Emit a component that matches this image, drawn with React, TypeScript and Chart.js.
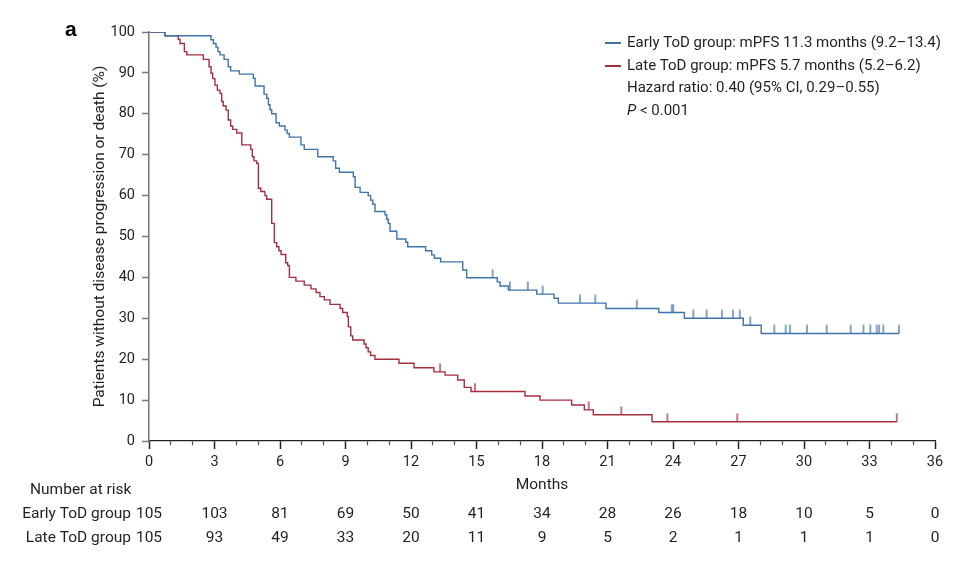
import { useEffect, useRef } from 'react';
import { Chart, registerables } from 'chart.js';

Chart.register(...registerables);

// ---- Data ----
const earlyTimes = [0, 0.73, 2.84, 2.95, 3.07, 3.16, 3.25, 3.44, 3.63, 3.74, 4.14, 4.78, 4.86, 5.27, 5.39, 5.47, 5.54, 5.62, 5.82, 5.97, 6.23, 6.33, 6.43, 6.96, 7.11, 7.73, 8.44, 8.55, 8.72, 9.36, 9.44, 9.67, 10.04, 10.15, 10.25, 10.35, 10.81, 10.89, 10.96, 11.04, 11.35, 11.76, 11.85, 12.67, 12.95, 13.07, 13.36, 14.37, 14.55, 15.95, 16.08, 16.46, 17.76, 18.55, 18.75, 20.93, 23.35, 24.52, 27.22, 28.04, 34.35];
const earlySurv = [100, 99.1, 98.1, 97.2, 96.3, 95.2, 94.4, 93.3, 91.5, 90.5, 89.7, 88.7, 86.8, 84.8, 83.8, 82.2, 81.0, 80.0, 77.8, 77.0, 76.0, 75.2, 74.3, 72.4, 71.3, 69.5, 68.5, 66.7, 65.7, 64.6, 62.0, 60.8, 60.0, 58.9, 57.9, 56.1, 55.3, 54.2, 53.2, 51.3, 49.4, 48.6, 47.5, 46.5, 45.5, 44.7, 43.8, 41.8, 39.9, 38.9, 37.9, 36.9, 35.9, 34.9, 33.7, 32.4, 31.4, 30.0, 28.3, 26.3, 26.3];
const earlyCensor = [15.74, 16.53, 17.35, 18.03, 19.74, 20.44, 22.34, 23.94, 24.01, 24.93, 25.54, 26.24, 26.75, 27.06, 27.54, 28.64, 29.16, 29.36, 30.14, 31.04, 32.14, 32.72, 33.04, 33.33, 33.44, 33.63, 34.35];

const lateTimes = [0, 0.73, 1.34, 1.42, 1.62, 1.73, 2.49, 2.75, 2.84, 2.92, 3.02, 3.13, 3.25, 3.33, 3.40, 3.53, 3.63, 3.74, 3.83, 4.02, 4.25, 4.66, 4.73, 4.81, 4.93, 5.01, 5.12, 5.31, 5.39, 5.62, 5.74, 5.85, 5.95, 6.05, 6.26, 6.35, 6.43, 6.73, 7.11, 7.42, 7.65, 7.83, 8.03, 8.29, 8.75, 8.87, 9.08, 9.13, 9.24, 9.33, 9.85, 9.94, 10.04, 10.15, 10.35, 11.45, 12.14, 13.05, 13.56, 14.14, 14.44, 14.75, 17.22, 17.91, 19.36, 19.94, 20.35, 23.04, 34.25];
const lateSurv = [100, 99.1, 98.2, 97.2, 95.2, 94.4, 93.3, 91.5, 89.9, 88.6, 87.0, 85.8, 85.0, 83.0, 81.9, 80.9, 78.5, 77.0, 76.2, 75.3, 72.4, 71.3, 69.5, 68.5, 67.9, 61.8, 61.0, 60.0, 59.1, 53.2, 48.5, 47.5, 46.5, 45.6, 43.6, 42.9, 40.0, 39.1, 38.1, 37.2, 36.3, 35.3, 34.5, 33.4, 32.4, 31.4, 30.4, 27.9, 25.7, 24.7, 23.7, 22.8, 21.8, 20.9, 20.0, 19.0, 17.9, 16.9, 16.1, 14.9, 13.1, 12.1, 11.0, 10.0, 8.8, 7.6, 6.4, 4.7, 4.7];
const lateCensor = [13.33, 14.93, 20.14, 21.63, 23.74, 26.94, 34.25];

const riskTimes = [0, 3, 6, 9, 12, 15, 18, 21, 24, 27, 30, 33, 36];
const riskEarly = [105, 103, 81, 69, 50, 41, 34, 28, 26, 18, 10, 5, 0];
const riskLate = [105, 93, 49, 33, 20, 11, 9, 5, 2, 1, 1, 1, 0];

const groupNames = ['Early ToD group', 'Late ToD group'];
const legendTexts = [
  'Early ToD group: mPFS 11.3 months (9.2\u201313.4)',
  'Late ToD group: mPFS 5.7 months (5.2\u20136.2)',
  'Hazard ratio: 0.40 (95% CI, 0.29\u20130.55)',
];
const pText = ' < 0.001';

const BLUE = '#3f74ab';
const RED = '#a52f3f';
const TEXT = '#231f20';
const FONT = 'Roboto, "Liberation Sans", sans-serif';

function levelAt(times: number[], surv: number[], t: number) {
  let v = surv[0];
  for (let i = 0; i < times.length; i++) if (times[i] <= t) v = surv[i];
  return v;
}

function makeTickImage(color: string) {
  const c = document.createElement('canvas');
  c.width = 4;
  c.height = 18;
  const g = c.getContext('2d')!;
  g.strokeStyle = color;
  g.lineWidth = 1.3;
  g.beginPath();
  g.moveTo(2, 0.5);
  g.lineTo(2, 9);
  g.stroke();
  return c;
}

export default function App() {
  const ref = useRef<HTMLCanvasElement>(null);

  useEffect(() => {
    const cv = ref.current!;
    const blueTick = makeTickImage(BLUE);
    const redTick = makeTickImage(RED);

    const textPlugin = {
      id: 'kmText',
      afterDraw(chart: any) {
        const ctx = chart.ctx as CanvasRenderingContext2D;
        const xs = chart.scales.x;
        ctx.save();
        // panel letter
        ctx.fillStyle = '#000';
        ctx.font = `bold 21px "Liberation Sans", Arial, sans-serif`;
        ctx.textAlign = 'left';
        ctx.textBaseline = 'middle';
        ctx.fillText('a', 65, 30);

        // legend
        ctx.font = `15px ${FONT}`;
        ctx.fillStyle = TEXT;
        const lx = 627;
        const ly = [43, 66, 88, 111];
        [BLUE, RED].forEach((c, i) => {
          ctx.strokeStyle = c;
          ctx.lineWidth = 2;
          ctx.beginPath();
          ctx.moveTo(605, ly[i]);
          ctx.lineTo(621, ly[i]);
          ctx.stroke();
        });
        legendTexts.forEach((t, i) => ctx.fillText(t, lx, ly[i]));
        ctx.font = `italic 15px ${FONT}`;
        ctx.fillText('P', lx, ly[3]);
        const pw = ctx.measureText('P').width;
        ctx.font = `15px ${FONT}`;
        ctx.fillText(pText, lx + pw, ly[3]);

        // number at risk table
        ctx.font = `15.5px ${FONT}`;
        ctx.fillText('Number at risk', 30, 490);
        ctx.textAlign = 'right';
        ctx.fillText(groupNames[0], 131, 514);
        ctx.fillText(groupNames[1], 131, 538);
        ctx.textAlign = 'center';
        riskTimes.forEach((t, i) => {
          const px = xs.getPixelForValue(t);
          ctx.fillText(String(riskEarly[i]), px, 514);
          ctx.fillText(String(riskLate[i]), px, 538);
        });
        ctx.restore();
      },
    };

    const toPts = (times: number[], surv: number[]) => times.map((t, i) => ({ x: t, y: surv[i] }));
    const censorPts = (c: number[], times: number[], surv: number[]) => c.map((t) => ({ x: t, y: levelAt(times, surv, t) }));

    const chart = new Chart(cv, {
      type: 'line',
      data: {
        datasets: [
          {
            label: groupNames[0],
            data: toPts(earlyTimes, earlySurv),
            borderColor: BLUE,
            borderWidth: 1.4,
            stepped: 'before',
            pointRadius: 0,
            fill: false,
          },
          {
            label: groupNames[1],
            data: toPts(lateTimes, lateSurv),
            borderColor: RED,
            borderWidth: 1.4,
            stepped: 'before',
            pointRadius: 0,
            fill: false,
          },
          {
            label: 'early censored',
            data: censorPts(earlyCensor, earlyTimes, earlySurv),
            showLine: false,
            pointStyle: blueTick,
            pointRadius: 5,
          } as any,
          {
            label: 'late censored',
            data: censorPts(lateCensor, lateTimes, lateSurv),
            showLine: false,
            pointStyle: redTick,
            pointRadius: 5,
          } as any,
        ],
      },
      options: {
        responsive: false,
        animation: false,
        parsing: true,
        layout: { padding: { left: 86, top: 32, right: 40, bottom: 69 } },
        plugins: { legend: { display: false }, tooltip: { enabled: false }, title: { display: false } },
        scales: {
          x: {
            type: 'linear',
            min: 0,
            max: 36,
            ticks: {
              stepSize: 1,
              autoSkip: false,
              maxRotation: 0,
              padding: 5,
              color: TEXT,
              font: { family: FONT, size: 14.5 },
              callback: (v: any) => (Number(v) % 3 === 0 ? String(v) : ''),
            },
            grid: {
              drawOnChartArea: false,
              tickLength: 8,
              tickColor: (c: any) => (c.tick && c.tick.value % 3 === 0 ? '#222' : '#555'),
              tickWidth: (c: any) => (c.tick && c.tick.value % 3 === 0 ? 1.5 : 1.2),
              tickBorderDash: (c: any) => (c.tick && c.tick.value % 3 === 0 ? [] : [4, 40]),
            },
            border: { color: '#222', width: 1.3 },
            title: {
              display: true,
              text: 'Months',
              color: TEXT,
              font: { family: FONT, size: 15.5 },
              padding: { top: 0, bottom: 1 },
            },
            afterFit: (s: any) => {
              s.height = 54;
            },
          },
          y: {
            type: 'linear',
            min: 0,
            max: 100,
            ticks: {
              stepSize: 10,
              padding: 7,
              color: TEXT,
              font: { family: FONT, size: 14.5 },
            },
            grid: { drawOnChartArea: false, tickLength: 7, tickColor: '#777', tickWidth: 1.5 },
            border: { color: '#777', width: 1.5 },
            title: {
              display: true,
              text: 'Patients without disease progression or death (%)',
              color: TEXT,
              font: { family: FONT, size: 15.5 },
              padding: { top: 5, bottom: 0 },
            },
            afterFit: (s: any) => {
              s.width = 63;
            },
          },
        },
      } as any,
      plugins: [textPlugin],
    });
    return () => chart.destroy();
  }, []);

  return (
    <div style={{ position: 'absolute', left: 0, top: 0, width: 975, height: 564, background: '#fff' }}>
      <canvas ref={ref} width={975} height={564} style={{ display: 'block' }} />
    </div>
  );
}
